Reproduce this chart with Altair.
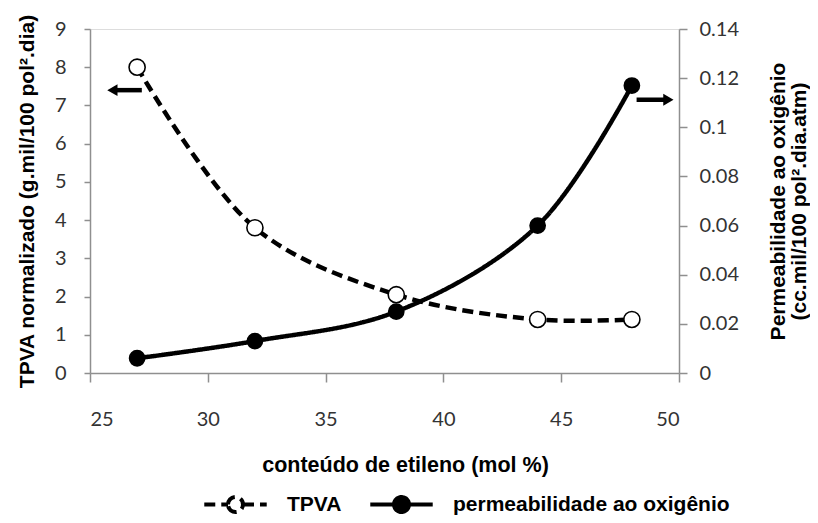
import altair as alt
import pandas as pd

# ---- data ----
etileno = [27, 32, 38, 44, 48]
tpva = [8.0, 3.8, 2.05, 1.4, 1.4]
permeabilidade = [0.006, 0.013, 0.025, 0.060, 0.117]
series = ["TPVA", "permeabilidade ao oxigênio"]

x_ticks = [25, 30, 35, 40, 45, 50]
left_ticks = [0, 1, 2, 3, 4, 5, 6, 7, 8, 9]
right_ticks = [0, 0.02, 0.04, 0.06, 0.08, 0.1, 0.12, 0.14]

# arrows (in x / left-axis units)
arrow_x_start = [27.2, 48.2]
arrow_x_end = [25.95, 49.55]
arrow_y = [7.4, 7.15]
arrow_shape = ["triangle-left", "triangle-right"]

df_t = pd.DataFrame({"etileno": etileno, "valor": tpva, "serie": series[0]})
df_p = pd.DataFrame({"etileno": etileno, "valor": permeabilidade, "serie": series[1]})
df_arrow = pd.DataFrame({"etileno": arrow_x_start, "etileno_fim": arrow_x_end,
                         "valor": arrow_y, "forma": arrow_shape})

AX = "#8f8f8f"
TICK_FONT = "Lato"
TITLE_FONT = "Liberation Sans"
TICK_COLOR = "#333333"

legend_path = ("M-1,0L-0.24,0M0.24,0L1,0"
               "M-0.24,0A0.24,0.24,0,1,1,0.24,0A0.24,0.24,0,1,1,-0.24,0Z")

leg = alt.Legend(
    title=None, orient="none", direction="horizontal",
    legendX=112, legendY=442,
    symbolType=legend_path, symbolSize=3900, symbolStrokeWidth=4,
    symbolStrokeColor="black", labelFont=TITLE_FONT, labelFontWeight="bold",
    labelFontSize=21, labelColor="black", labelOffset=18, columnPadding=20,
    labelLimit=500,
)

x_axis = alt.Axis(
    values=x_ticks, title="conteúdo de etileno (mol %)", grid=False,
    domainColor=AX, domainWidth=1.5, tickColor=AX, tickWidth=1.5, tickSize=9,
    labelFont=TICK_FONT, labelFontSize=20, labelColor=TICK_COLOR, labelPadding=27,
    labelOverlap=False,
    titleFont=TITLE_FONT, titleFontWeight="bold", titleFontSize=21.5, titleColor="black",
    titlePadding=25, titleX=315,
)
x_scale = alt.Scale(domain=[25, 50], nice=False, zero=False)

dash_enc = alt.StrokeDash(
    "serie:N",
    scale=alt.Scale(domain=series, range=[[11, 6], [1, 0]]),
    legend=leg,
)
fill_enc = alt.Fill(
    "serie:N",
    scale=alt.Scale(domain=series, range=["white", "black"]),
    legend=leg,
)

left_axis = alt.Axis(
    values=left_ticks, title="TPVA normalizado (g.mil/100 pol².dia)", grid=False,
    domainColor=AX, domainWidth=1.5, tickColor=AX, tickWidth=1.5, tickSize=6,
    labelFont=TICK_FONT, labelFontSize=20, labelColor=TICK_COLOR, labelPadding=18,
    labelOverlap=False,
    titleFont=TITLE_FONT, titleFontWeight="bold", titleFontSize=21, titleColor="black",
    titlePadding=17,
)
right_axis = alt.Axis(
    values=right_ticks, orient="right", format="~g",
    title=["Permeabilidade ao oxigênio", "(cc.mil/100 pol².dia.atm)"], grid=False,
    domainColor=AX, domainWidth=1.5, tickColor=AX, tickWidth=1.5, tickSize=8,
    labelFont=TICK_FONT, labelFontSize=20, labelColor=TICK_COLOR, labelPadding=12,
    labelOverlap=False,
    titleFont=TITLE_FONT, titleFontWeight="bold", titleFontSize=21, titleColor="black",
    titlePadding=29, titleLineHeight=21, titleAngle=270,
)

left_scale = alt.Scale(domain=[0, 9], nice=False)
right_scale = alt.Scale(domain=[0, 0.14], nice=False)

xe = alt.X("etileno:Q", scale=x_scale, axis=x_axis)
yl = alt.Y("valor:Q", scale=left_scale, axis=left_axis)
yr = alt.Y("valor:Q", scale=right_scale, axis=right_axis)

t_line = alt.Chart(df_t).mark_line(
    interpolate="catmull-rom", strokeWidth=4.5, color="black"
).encode(x=xe, y=yl, strokeDash=dash_enc)
t_pts = alt.Chart(df_t).mark_point(
    shape="circle", size=260, stroke="black", strokeWidth=1.6, opacity=1
).encode(x=xe, y=yl, fill=fill_enc)

arrows_rule = alt.Chart(df_arrow).mark_rule(strokeWidth=4.5, color="black").encode(
    x=xe, x2="etileno_fim:Q", y=yl
)
arrows_head = alt.Chart(df_arrow).mark_point(
    filled=True, color="black", size=140, opacity=1
).encode(
    x=alt.X("etileno_fim:Q", scale=x_scale, axis=x_axis), y=yl,
    shape=alt.Shape("forma:N", scale=None, legend=None),
)

p_line = alt.Chart(df_p).mark_line(
    interpolate="catmull-rom", strokeWidth=4.5, color="black"
).encode(x=xe, y=yr, strokeDash=dash_enc)
p_pts = alt.Chart(df_p).mark_point(
    shape="circle", size=230, stroke="black", strokeWidth=1.6, opacity=1
).encode(x=xe, y=yr, fill=fill_enc)

left_group = alt.layer(t_line, t_pts, arrows_rule, arrows_head)
right_group = alt.layer(p_line, p_pts)

chart = (
    alt.layer(left_group, right_group)
    .resolve_scale(y="independent")
    .properties(
        width=589, height=344,
        autosize=alt.AutoSizeParams(type="none"),
        padding={"left": 82, "top": 21, "right": 131, "bottom": 142},
    )
    .configure_view(stroke=AX, strokeWidth=1.5)
    .configure(background="white")
)

chart.save("out.html", embed_options={"renderer": "svg", "actions": False})
